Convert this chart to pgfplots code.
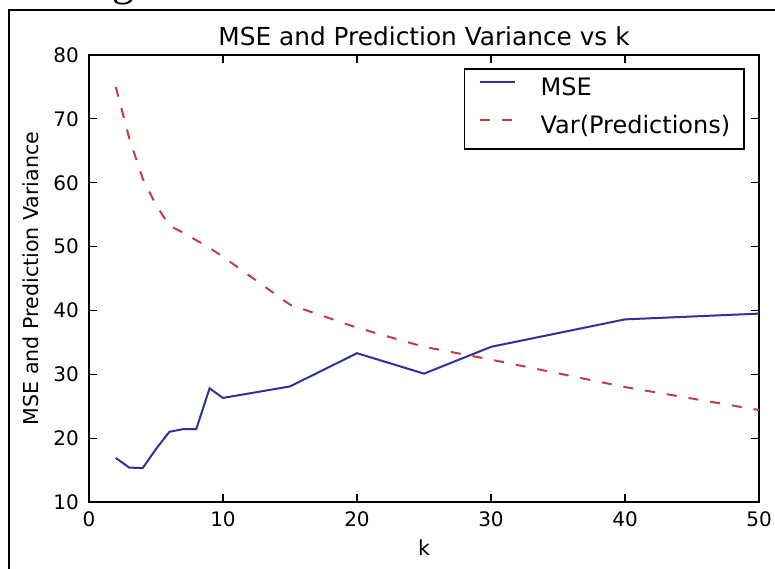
\documentclass[border=0pt]{standalone}
\usepackage{pgfplots}
\pgfplotsset{compat=1.18}
\usepackage{fontspec}
\setmainfont{DejaVu Sans}
\newfontfamily\serifg{Liberation Serif}
\definecolor{mseblue}{RGB}{50,50,150}
\definecolor{varred}{RGB}{195,60,65}
\begin{document}
\begin{tikzpicture}
\useasboundingbox (-44.5pt,-33pt) rectangle (343pt,251pt);
\fill[white] (-44.5pt,-33pt) rectangle (343pt,251pt);
\draw[line width=1pt] (-40pt,-40pt) -- (-40pt,246pt) -- (350pt,246pt);
\node[anchor=base west, inner sep=0pt, font=\serifg\fontsize{22}{24}\selectfont] at (11.3pt,253.3pt) {g};
\begin{axis}[
  at={(0,0)}, anchor=origin,
  scale only axis, width=335pt, height=223.5pt,
  xmin=0, xmax=50, ymin=10, ymax=80,
  xtick={0,10,...,50}, ytick={10,20,...,80},
  xtick pos=both, ytick pos=both,
  xticklabel pos=lower, yticklabel pos=left,
  tick align=inside, major tick length=4pt,
  minor tick num=0,
  tick style={black, line width=0.6pt},
  axis line style={line width=0.9pt},
  /pgf/number format/assume math mode=true,
  ticklabel style={font=\fontsize{10}{12}\selectfont},
  xticklabel style={yshift=-1.2pt},
  yticklabel style={xshift=-1.5pt},
  every axis title/.style={at={(0.5,1)}, anchor=base, yshift=5pt, font=\fontsize{12.4}{14}\selectfont},
  title={MSE and Prediction Variance vs k},
  every axis x label/.style={at={(0.5,0)}, anchor=base, yshift=-26.5pt, font=\fontsize{10.3}{12}\selectfont},
  every axis y label/.style={xshift=-25.5pt, at={(0,0.5)}, rotate=90, anchor=base, font=\fontsize{10.3}{12}\selectfont},
  xlabel={k},
  ylabel={MSE and Prediction Variance},
  legend style={at={(1,1)}, anchor=north east, xshift=-7pt, yshift=-6.5pt,
    draw=black, line width=0.8pt, fill=white,
    font=\fontsize{12}{14}\selectfont,
    inner xsep=7pt, inner ysep=4.5pt,
    nodes={inner sep=0pt, text height=9pt, text depth=3pt},
    column sep=12.5pt, row sep=7pt},
  legend cell align=left,
  legend image code/.code={\draw[#1] (0pt,4pt) -- (17.5pt,4pt);},
]
\addplot[color=mseblue, line width=1pt] coordinates {
(2,16.9) (3,15.4) (4,15.3) (5,18.3) (6,21.0) (7,21.4) (8,21.4) (9,27.8) (10,26.3)
(15,28.1) (20,33.3) (25,30.1) (30,34.3) (40,38.6) (50,39.5)
};
\addlegendentry{MSE}
\addplot[color=varred, line width=1pt, dash pattern=on 5pt off 6pt] coordinates {
(2,75.0) (3,67.0) (4,60.7) (5,56.5) (6,53.3) (7,52.2) (8,51.0) (9,49.8) (10,48.4)
(15,40.9) (20,37.3) (25,34.3) (30,32.3) (40,28.0) (50,24.4)
};
\addlegendentry{Var(Predictions)}
\end{axis}
\end{tikzpicture}
\end{document}
